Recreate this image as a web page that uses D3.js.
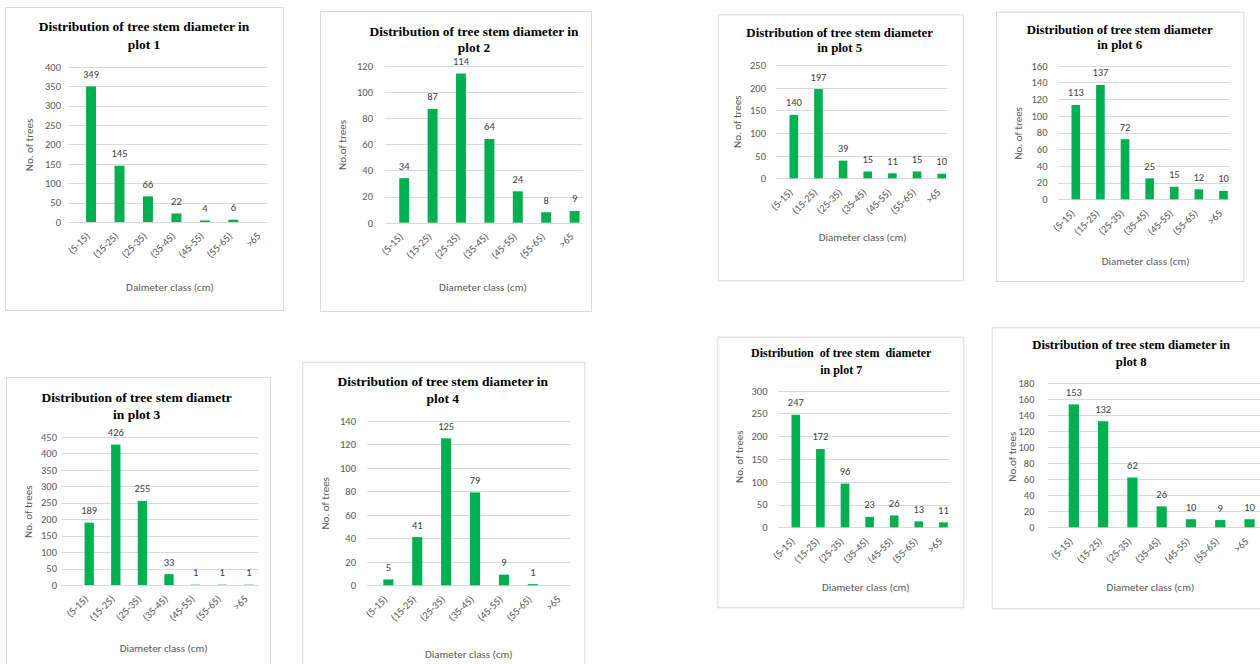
<!DOCTYPE html>
<html><head><meta charset="utf-8">
<script src="https://cdn.jsdelivr.net/npm/d3@7"></script>
<style>
html,body{margin:0;padding:0;background:#fff;}
svg{display:block;}
</style></head><body>
<svg id="c" width="1260" height="664"></svg>
<script>
// ---------- data ----------
const categories = ["(5-15)", "(15-25)", "(25-35)", "(35-45)", "(45-55)", "(55-65)", ">65"];

const plot1Values = [349, 145, 66, 22, 4, 6, null];
const plot2Values = [34, 87, 114, 64, 24, 8, 9];
const plot3Values = [189, 426, 255, 33, 1, 1, 1];
const plot4Values = [5, 41, 125, 79, 9, 1, null];
const plot5Values = [140, 197, 39, 15, 11, 15, 10];
const plot6Values = [113, 137, 72, 25, 15, 12, 10];
const plot7Values = [247, 172, 96, 23, 26, 13, 11];
const plot8Values = [153, 132, 62, 26, 10, 9, 10];

const plot1Ticks = [0, 50, 100, 150, 200, 250, 300, 350, 400];
const plot2Ticks = [0, 20, 40, 60, 80, 100, 120];
const plot3Ticks = [0, 50, 100, 150, 200, 250, 300, 350, 400, 450];
const plot4Ticks = [0, 20, 40, 60, 80, 100, 120, 140];
const plot5Ticks = [0, 50, 100, 150, 200, 250];
const plot6Ticks = [0, 20, 40, 60, 80, 100, 120, 140, 160];
const plot7Ticks = [0, 50, 100, 150, 200, 250, 300];
const plot8Ticks = [0, 20, 40, 60, 80, 100, 120, 140, 160, 180];

const plot1Title = ["Distribution of tree stem diameter in", "plot 1"];
const plot2Title = ["Distribution of tree stem diameter in", "plot 2"];
const plot3Title = ["Distribution of tree stem diametr", "in plot 3"];
const plot4Title = ["Distribution of tree stem diameter in", "plot 4"];
const plot5Title = ["Distribution of tree stem diameter", "in plot 5"];
const plot6Title = ["Distribution of tree stem diameter", "in plot 6"];
const plot7Title = ["Distribution  of tree stem  diameter", "in plot 7"];
const plot8Title = ["Distribution of tree stem diameter in", "plot 8"];

const yTitles = ["No. of trees", "No.of trees", "No. of trees", "No. of trees", "No. of trees", "No. of trees", "No. of trees", "No.of trees"];
const xTitles = ["Daimeter class (cm)", "Diameter class (cm)", "Diameter class (cm)", "Diameter class (cm)", "Diameter class (cm)", "Diameter class (cm)", "Diameter class (cm)", "Diameter class (cm)"];

// ---------- layout ----------
const panels = [
  {values: plot1Values, ticks: plot1Ticks, title: plot1Title, box: [5, 7, 278, 303], band: [76.8, 276], grid: [68, 268], yr: [222, 66.7], tickR: 61, titleX: 144, titleY: [26.7, 44.3], titleSize: 13.5, yt: [29.3, 145], xt: [170, 286.7]},
  {values: plot2Values, ticks: plot2Ticks, title: plot2Title, box: [320, 11, 271, 300], band: [390, 588.8], grid: [385, 583], yr: [222.7, 65.7], tickR: 373, titleX: 474, titleY: [31.7, 47.7], titleSize: 13.4, yt: [341.7, 145], xt: [483, 287.3]},
  {values: plot3Values, ticks: plot3Ticks, title: plot3Title, box: [6, 377, 264, 300], band: [75.9, 262.1], grid: [61.7, 258.3], yr: [585, 436.7], tickR: 57, titleX: 136.7, titleY: [397.7, 415], titleSize: 13.5, yt: [28.3, 511.7], xt: [163.7, 648.3]},
  {values: plot4Values, ticks: plot4Ticks, title: plot4Title, box: [302.3, 361.7, 282, 320], band: [373.9, 576.2], grid: [366.7, 570], yr: [585.3, 420.7], tickR: 356, titleX: 442.8, titleY: [381.7, 398.3], titleSize: 13.5, yt: [325, 503.3], xt: [468.8, 654]},
  {values: plot5Values, ticks: plot5Ticks, title: plot5Title, box: [717.7, 14.3, 245, 266], band: [781.5, 954], grid: [776, 947.3], yr: [178.3, 65], tickR: 766, titleX: 839.7, titleY: [32.3, 47.3], titleSize: 12.85, yt: [736.7, 121.7], xt: [862.7, 237.3]},
  {values: plot6Values, ticks: plot6Ticks, title: plot6Title, box: [996, 11.7, 247.3, 269.3], band: [1063.5, 1235.8], grid: [1058.3, 1230], yr: [199.3, 65.7], tickR: 1047.5, titleX: 1119.7, titleY: [29.3, 44.3], titleSize: 12.8, yt: [1018.3, 133.3], xt: [1145.7, 260.7]},
  {values: plot7Values, ticks: plot7Ticks, title: plot7Title, box: [717.3, 336.7, 246, 270.6], band: [783.5, 955.7], grid: [778.3, 949.3], yr: [527.3, 390.7], tickR: 767.5, titleX: 841.2, titleY: [353.3, 370], titleSize: 12, yt: [739.3, 456.7], xt: [865.8, 586.7]},
  {values: plot8Values, ticks: plot8Ticks, title: plot8Title, box: [991.7, 327.3, 290, 281], band: [1059.2, 1264.2], grid: [1048.3, 1262], yr: [527.3, 382.7], tickR: 1034.5, titleX: 1131.2, titleY: [345, 361.7], titleSize: 12.7, yt: [1011.7, 456.7], xt: [1150.5, 586.7]}
];

const GREEN = "#00B050";
const GRID = "#D9D9D9";
const SANS = "Carlito, Lato, 'Liberation Sans', sans-serif";
const SERIF = "'Liberation Serif', 'Times New Roman', serif";

const svg = d3.select("#c");
svg.append("rect").attr("width", 1260).attr("height", 664).attr("fill", "#fff");

panels.forEach((p, i) => {
  const g = svg.append("g").attr("class", "panel panel" + (i + 1));

  // frame
  g.append("rect")
    .attr("x", p.box[0] + 0.5).attr("y", p.box[1] + 0.5)
    .attr("width", p.box[2]).attr("height", p.box[3])
    .attr("fill", "#fff").attr("stroke", GRID).attr("stroke-width", 1);

  const x = d3.scaleBand().domain(categories).range(p.band).paddingInner(0.65).paddingOuter(0.325);
  const y = d3.scaleLinear().domain([0, p.ticks[p.ticks.length - 1]]).range(p.yr);

  // gridlines
  g.append("g").selectAll("line").data(p.ticks).join("line")
    .attr("x1", p.grid[0]).attr("x2", p.grid[1])
    .attr("y1", d => Math.round(y(d)) + 0.5).attr("y2", d => Math.round(y(d)) + 0.5)
    .attr("stroke", GRID).attr("stroke-width", 1);

  // y axis labels
  const ya = g.append("g").attr("transform", `translate(${p.tickR},0)`)
    .call(d3.axisLeft(y).tickValues(p.ticks).tickSize(0).tickPadding(0).tickFormat(d3.format("d")));
  ya.select(".domain").remove();
  ya.attr("font-family", SANS).attr("font-size", 10.5);
  ya.selectAll("text").attr("fill", "#595959");

  // bars
  const data = categories.map((c, k) => ({c, v: p.values[k]}));
  g.append("g").selectAll("rect").data(data.filter(d => d.v !== null)).join("rect")
    .attr("x", d => x(d.c)).attr("width", x.bandwidth())
    .attr("y", d => y(d.v)).attr("height", d => y(0) - y(d.v))
    .attr("fill", GREEN);

  // data labels
  g.append("g").selectAll("text").data(data.filter(d => d.v !== null)).join("text")
    .attr("x", d => x(d.c) + x.bandwidth() / 2)
    .attr("y", d => y(d.v) - 8.5)
    .attr("text-anchor", "middle")
    .attr("font-family", SANS).attr("font-size", 10.5).attr("fill", "#404040")
    .text(d => d.v);

  // x axis labels (rotated)
  const xa = g.append("g").attr("transform", `translate(0,${p.yr[0]})`)
    .call(d3.axisBottom(x).tickSize(0).tickPadding(0));
  xa.select(".domain").remove();
  xa.attr("font-family", SANS).attr("font-size", 10.5);
  xa.selectAll("text")
    .attr("fill", "#595959")
    .attr("text-anchor", "end")
    .attr("x", 0).attr("y", 0).attr("dy", "0.35em")
    .attr("transform", "translate(-3,12) rotate(-45)");

  // title
  const t = g.append("text")
    .attr("text-anchor", "middle")
    .attr("font-family", SERIF).attr("font-weight", "bold")
    .attr("font-size", p.titleSize).attr("fill", "#000")
    .style("white-space", "pre");
  p.title.forEach((line, k) => {
    t.append("tspan").attr("x", p.titleX).attr("y", p.titleY[k] + p.titleSize * 0.33).text(line);
  });

  // axis titles
  g.append("text")
    .attr("transform", `translate(${p.yt[0]},${p.yt[1]}) rotate(-90)`)
    .attr("text-anchor", "middle").attr("dy", "0.35em")
    .attr("font-family", SANS).attr("font-size", 11).attr("fill", "#595959")
    .text(yTitles[i]);
  g.append("text")
    .attr("x", p.xt[0]).attr("y", p.xt[1])
    .attr("text-anchor", "middle").attr("dy", "0.35em")
    .attr("font-family", SANS).attr("font-size", 11).attr("fill", "#595959")
    .text(xTitles[i]);
});
</script>
</body></html>
